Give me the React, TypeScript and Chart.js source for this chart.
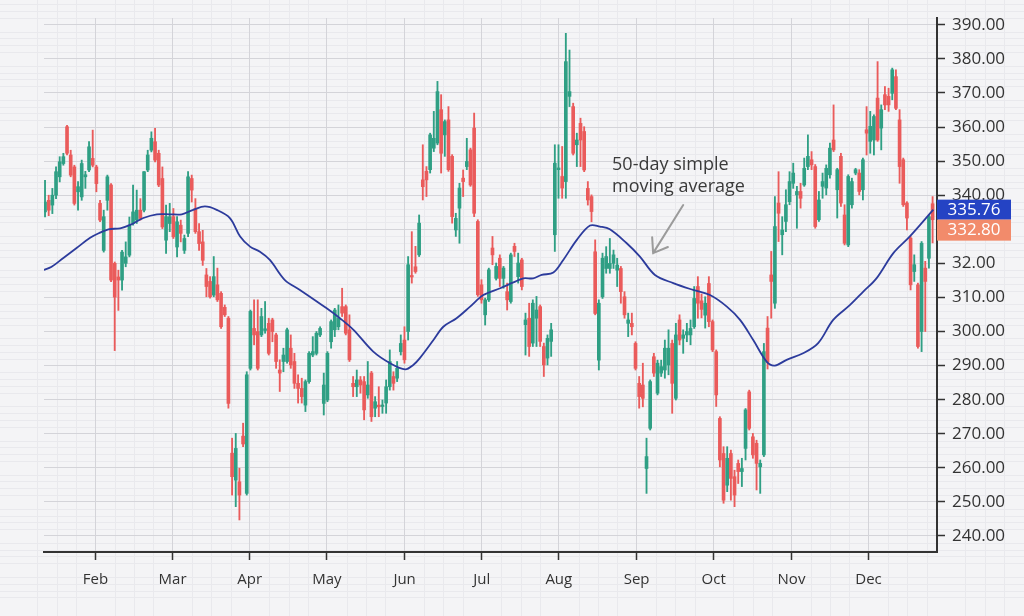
import React, { useEffect, useRef } from 'react';
import { Chart, registerables } from 'chart.js';

Chart.register(...registerables);

// ---- Candle data (trading-day index 0..242) ----
const openP = [
  335.1, 338.5, 337.1, 340.0, 345.4, 349.3, 360.1, 351.8, 348.3, 341.0,
  339.5, 345.4, 347.4, 350.8, 348.3, 337.6, 323.8, 338.5, 343.0, 320.0,
  316.0, 315.1, 320.0, 322.4, 331.7, 332.7, 335.6, 335.6, 347.4, 353.2,
  355.7, 352.3, 344.9, 326.8, 331.7, 333.7, 324.8, 331.2, 323.8, 328.8,
  344.9, 336.1, 329.3, 326.3, 316.6,
  314.7, 310.7, 313.7, 311.2, 307.1, 303.9, 264.3, 256.4, 255.9, 269.3,
  252.5, 289.2, 300.9, 300.0, 299.0, 300.3, 302.4, 303.4, 299.0, 288.7,
  291.2, 291.2, 295.1, 291.2, 284.8, 283.3, 278.4, 285.3, 293.1, 293.6,
  299.0, 278.9, 279.9, 297.0, 300.5, 301.4, 307.3, 307.3, 300.5, 284.8,
  283.8, 285.8, 285.3, 281.4, 287.8, 277.5, 278.4, 278.0, 279.0, 283.8,
  286.8, 286.3, 294.1, 297.5,
  300.0, 316.3, 319.0, 322.5, 344.5, 347.0, 347.5, 353.8, 355.3, 365.1,
  357.7, 362.1, 351.4, 329.8, 336.2, 345.0, 348.4, 353.3, 359.7, 332.3,
  313.7, 304.9, 309.3, 324.5, 315.6, 321.5, 315.6, 311.7, 308.8, 325.0,
  316.1, 321.0, 302.0, 303.9, 296.6, 303.9, 307.3, 295.6, 292.2, 297.1,
  328.4, 347.5, 345.5,
  344.0, 369.0, 366.0, 354.8, 361.1, 358.7, 342.0, 339.6, 323.4, 291.6,
  310.2, 318.5, 318.5, 320.0, 318.0, 318.5, 310.2, 302.4, 302.4, 296.5,
  284.8, 284.3, 259.8, 271.6, 292.6, 281.9, 287.8, 288.7, 290.2, 296.5,
  280.4, 303.4, 298.0, 299.0, 299.0, 301.4, 313.2, 309.0,
  304.8, 314.1, 302.9, 294.1, 274.5, 264.2, 254.9, 264.2, 257.4, 261.3,
  258.9, 265.7, 282.3, 269.1, 267.2, 260.3, 263.8, 301.0,
  316.6, 308.3, 337.7, 328.4, 332.3, 338.1, 343.5, 340.1, 341.1, 343.0,
  348.4, 350.4, 348.4, 332.8, 342.6, 342.1, 346.0, 356.2, 341.6, 351.4,
  334.2, 325.4, 337.2, 346.5, 346.5, 341.6, 359.2, 355.8, 356.2, 368.5,
  359.7, 369.5, 369.0, 369.9, 374.8, 362.1, 350.4, 337.7, 327.4, 317.6,
  313.7, 300.0, 318.6, 321.5, 337.5,
];

const highP = [
  344.4, 340.0, 342.0, 348.3, 351.3, 352.3, 360.5, 353.2, 348.8, 344.0,
  350.3, 347.0, 355.7, 359.1, 348.8, 338.5, 335.6, 345.9, 343.4, 320.4,
  318.0, 323.8, 326.3, 333.6, 343.0, 341.5, 339.0, 346.9, 353.2, 358.6,
  359.6, 353.2, 348.3, 337.1, 337.6, 336.1, 333.7, 332.7, 328.3, 346.9,
  345.9, 339.0, 331.7, 329.7, 318.5,
  316.1, 322.0, 318.6, 311.7, 307.8, 304.4, 268.7, 270.1, 259.9, 273.1,
  288.2, 306.3, 309.3, 309.3, 306.8, 308.8, 303.9, 303.9, 299.5, 291.7,
  295.1, 301.0, 299.0, 293.6, 287.3, 286.3, 285.8, 294.1, 298.5, 300.0,
  301.4, 287.8, 294.1, 303.4, 306.8, 307.8, 312.7, 307.8, 304.9, 286.8,
  288.7, 286.8, 286.8, 291.2, 288.3, 280.9, 283.8, 279.9, 285.8, 294.6,
  288.2, 291.2, 299.0, 301.4,
  322.0, 329.3, 325.0, 334.2, 354.8, 348.4, 358.2, 364.6, 373.4, 369.5,
  362.1, 366.0, 351.9, 334.7, 343.5, 347.4, 356.7, 353.8, 364.1, 332.8,
  315.2, 309.8, 318.6, 327.9, 320.1, 322.5, 319.1, 314.2, 323.0, 325.9,
  323.0, 321.5, 305.4, 308.3, 309.3, 310.3, 307.8, 296.6, 299.0, 302.4,
  354.8, 354.8, 354.3,
  387.5, 382.6, 367.0, 358.2, 362.6, 360.1, 344.0, 340.1, 326.9, 309.3,
  323.0, 324.9, 327.3, 323.9, 321.5, 319.1, 311.7, 305.4, 305.4, 297.0,
  286.8, 290.7, 268.7, 285.8, 293.6, 291.6, 291.6, 297.5, 300.5, 297.5,
  302.4, 304.9, 300.5, 302.4, 303.4, 313.2, 316.1, 311.0,
  310.2, 316.1, 303.4, 294.6, 275.0, 266.2, 266.2, 265.2, 259.3, 262.3,
  262.8, 277.4, 282.8, 270.1, 268.1, 262.3, 296.5, 304.4,
  323.5, 339.6, 346.9, 333.7, 341.6, 346.9, 349.4, 342.6, 343.5, 350.9,
  357.7, 352.8, 349.0, 341.1, 346.5, 348.9, 355.3, 366.5, 347.9, 352.3,
  337.2, 346.0, 345.0, 347.9, 347.5, 350.9, 366.0, 364.6, 363.6, 379.2,
  366.5, 371.9, 371.4, 377.3, 376.8, 365.1, 350.9, 338.1, 327.9, 322.5,
  314.2, 326.4, 320.6, 334.2, 339.6,
];

const lowP = [
  333.6, 334.0, 334.6, 339.0, 343.9, 348.8, 351.8, 345.4, 337.1, 335.6,
  338.5, 342.0, 346.9, 348.3, 341.0, 332.2, 323.3, 335.6, 314.6, 294.4,
  306.2, 312.1, 319.0, 321.9, 331.2, 331.7, 332.7, 335.1, 346.9, 352.7,
  349.8, 342.5, 330.2, 322.9, 329.3, 327.3, 321.9, 326.3, 322.9, 327.8,
  338.0, 328.8, 323.8, 319.4, 310.2,
  309.8, 310.2, 308.8, 300.9, 304.4, 277.5, 252.0, 248.6, 244.7, 266.2,
  252.0, 288.7, 296.1, 288.7, 298.5, 299.5, 293.1, 297.0, 289.2, 282.4,
  288.2, 290.7, 289.2, 283.3, 279.0, 279.0, 276.5, 284.8, 292.6, 293.1,
  298.5, 275.5, 279.4, 295.1, 298.5, 300.5, 304.4, 299.0, 291.2, 280.9,
  280.9, 281.9, 274.1, 280.4, 273.6, 275.0, 275.0, 276.0, 276.0, 282.8,
  282.8, 285.3, 293.1, 290.7,
  297.5, 314.2, 317.1, 322.0, 338.6, 339.6, 346.5, 352.8, 354.8, 346.5,
  351.4, 347.0, 331.8, 327.9, 325.9, 339.6, 347.5, 342.6, 333.7, 310.3,
  308.3, 301.9, 308.8, 319.6, 315.1, 313.2, 312.7, 306.3, 308.3, 322.0,
  314.2, 312.2, 293.1, 292.7, 295.6, 295.6, 295.6, 286.8, 290.2, 292.7,
  323.5, 339.1, 339.1,
  339.1, 366.0, 351.8, 348.4, 348.4, 346.9, 337.1, 332.2, 304.9, 288.7,
  309.7, 317.1, 317.1, 318.5, 313.2, 308.3, 303.9, 298.5, 299.0, 288.7,
  277.5, 277.9, 252.5, 271.1, 286.8, 281.4, 286.8, 286.3, 287.3, 276.0,
  279.9, 296.1, 293.6, 297.0, 296.1, 300.9, 303.9, 304.0,
  301.0, 301.4, 294.1, 278.0, 260.3, 249.6, 253.0, 250.5, 248.6, 255.4,
  254.5, 262.3, 271.1, 262.8, 253.5, 252.5, 263.3, 289.0,
  303.9, 306.8, 326.4, 322.5, 329.3, 337.2, 342.0, 330.3, 336.2, 342.6,
  347.5, 347.5, 330.3, 332.3, 339.1, 340.1, 345.0, 352.8, 333.3, 336.7,
  325.4, 324.9, 336.2, 346.0, 340.1, 338.6, 351.8, 352.3, 351.8, 355.8,
  353.3, 365.1, 364.6, 368.0, 365.1, 343.5, 336.7, 329.8, 312.2, 314.7,
  295.1, 294.1, 300.0, 318.6, 326.0,
];

const closeP = [
  338.0, 335.6, 340.0, 346.9, 349.8, 351.3, 352.3, 345.9, 337.6, 342.5,
  349.3, 346.0, 354.2, 348.8, 343.4, 332.7, 333.7, 345.4, 315.1, 310.1,
  315.1, 323.3, 321.9, 331.2, 335.1, 335.6, 333.2, 346.9, 351.8, 356.7,
  350.3, 343.0, 330.7, 333.7, 333.7, 327.8, 332.2, 328.8, 327.3, 345.4,
  341.5, 329.3, 325.8, 320.9, 313.2,
  310.2, 316.1, 309.3, 301.4, 304.9, 278.9, 257.4, 265.7, 252.0, 267.0,
  287.3, 305.9, 299.0, 289.2, 304.4, 300.8, 293.6, 300.0, 291.2, 287.8,
  293.1, 300.5, 290.2, 284.8, 283.3, 280.9, 285.3, 293.6, 294.1, 299.5,
  300.9, 284.3, 293.6, 302.9, 306.3, 303.9, 305.4, 299.5, 291.7, 283.8,
  285.8, 284.3, 277.0, 284.3, 275.0, 279.4, 277.9, 278.4, 283.8, 291.2,
  284.8, 289.2, 296.5, 291.7,
  319.6, 316.0, 317.6, 331.8, 342.5, 344.5, 357.7, 356.7, 370.4, 352.3,
  361.6, 347.5, 333.7, 333.2, 342.1, 344.0, 349.9, 343.0, 334.7, 310.8,
  309.3, 309.3, 318.1, 322.5, 319.1, 315.6, 318.6, 309.3, 322.5, 323.5,
  320.1, 313.2, 303.4, 295.6, 308.3, 306.3, 297.1, 290.2, 298.0, 300.5,
  349.4, 348.0, 342.1,
  379.2, 370.4, 352.3, 356.2, 356.2, 347.4, 338.6, 335.2, 305.3, 308.3,
  321.5, 322.0, 320.0, 322.5, 319.5, 311.7, 304.9, 303.4, 301.4, 289.2,
  280.9, 280.4, 263.3, 285.3, 287.8, 290.7, 289.7, 295.1, 295.1, 284.8,
  299.0, 297.5, 299.0, 300.0, 300.9, 309.7, 308.3, 306.5,
  308.3, 302.9, 294.6, 281.4, 262.3, 250.5, 262.8, 256.9, 252.0, 258.9,
  259.8, 277.0, 271.6, 263.8, 261.3, 261.3, 294.1, 291.0,
  314.7, 330.8, 334.7, 329.8, 337.2, 344.0, 346.5, 341.1, 339.1, 347.9,
  351.4, 348.9, 330.8, 338.6, 344.0, 347.9, 353.8, 353.3, 347.5, 337.7,
  325.9, 345.5, 344.0, 347.5, 341.1, 350.4, 358.2, 360.2, 363.1, 356.2,
  365.1, 366.5, 366.5, 376.8, 365.5, 348.4, 337.2, 333.3, 313.7, 319.6,
  295.6, 325.9, 314.7, 333.7, 332.8,
];

// ---- 50-day simple moving average ----
const maIndex = [
  -0.5, 1.8, 5.0, 8.6, 12.3, 15.0, 17.3, 20.5, 23.2, 26.8,
  30.5, 34.1, 37.3, 40.4, 43.6, 46.8, 50.4, 53.2, 55.9, 58.6,
  61.3, 65.4, 69.5, 76.8, 80.4, 84.1, 89.5, 94.1, 98.2, 100.4,
  102.2, 105.9, 108.6, 112.2, 115.9, 119.5, 124.1, 127.7, 130.4, 133.1,
  135.4, 138.6, 141.3, 145.0, 148.6, 151.3, 154.0, 158.6, 162.2, 166.3,
  171.3, 176.7, 181.3, 185.9, 189.5, 193.1, 196.8, 199.0, 202.2, 206.7,
  210.8, 214.9, 219.5, 223.1, 226.7, 231.3, 235.8, 242.2,
];
const maValue = [
  318.0, 319.0, 321.6, 324.5, 327.5, 329.0, 330.0, 330.3, 331.3, 333.3,
  334.4, 334.4, 334.4, 335.7, 336.7, 335.7, 333.3, 327.9, 324.9, 323.4,
  321.0, 315.1, 312.2, 306.8, 303.9, 300.5, 294.1, 290.7, 288.9, 290.2,
  292.2, 297.5, 301.4, 303.9, 307.3, 310.7, 312.7, 314.4, 315.6, 315.6,
  316.6, 317.3, 321.0, 326.9, 331.1, 330.8, 330.0, 325.9, 322.0, 316.6,
  314.2, 312.2, 310.7, 307.3, 303.4, 297.5, 291.1, 290.0, 291.7, 293.6,
  296.6, 303.4, 307.8, 311.7, 315.6, 323.0, 327.9, 335.76,
];

// ---- Axes ----
const monthLabels = ['Feb', 'Mar', 'Apr', 'May', 'Jun', 'Jul', 'Aug', 'Sep', 'Oct', 'Nov', 'Dec'];
const monthTickIndex = [13.74, 34.77, 55.81, 76.83, 98.04, 119.06, 140.08, 161.29, 182.31, 203.52, 224.54];
const yTickValues = [240, 250, 260, 270, 280, 290, 300, 310, 320, 330, 340, 350, 360, 370, 380, 390];
const yTickLabels = ['240.00', '250.00', '260.00', '270.00', '280.00', '290.00', '300.00', '310.00', '32.00', '330.00', '340.00', '350.00', '360.00', '370.00', '380.00', '390.00'];

const lastMA = 335.76;
const lastClose = 332.8;
const lastMALabel = '335.76';
const lastCloseLabel = '332.80';

const annotationLines = ['50-day simple', 'moving average'];
const annotationTextAt = { x: 154.6, y1: 348.9, y2: 342.5 };
const arrowFrom = { x: 174.0, y: 337.1 };
const arrowTo = { x: 165.8, y: 323.0 };

const GREEN = '#2f9f84';
const RED = '#ea5b5b';
const BG = '#f4f4f6';
const FONT = '"Open Sans", "Noto Sans", sans-serif';

const bgPlugin = {
  id: 'bgGrid',
  beforeDraw(chart: any) {
    const { ctx, width, height, scales } = chart;
    const xs = scales.x;
    const ys = scales.y;
    ctx.save();
    ctx.fillStyle = BG;
    ctx.fillRect(0, 0, width, height);
    ctx.strokeStyle = '#e9e9ed';
    ctx.lineWidth = 1;
    for (let v = 220; v <= 410; v += 2) {
      if (v % 10 === 0) continue;
      const y = Math.round(ys.getPixelForValue(v)) + 0.5;
      if (y < 0 || y > height) continue;
      ctx.beginPath();
      ctx.moveTo(0, y);
      ctx.lineTo(width, y);
      ctx.stroke();
    }
    const step = (monthTickIndex[monthTickIndex.length - 1] - monthTickIndex[0]) / (monthTickIndex.length - 1);
    for (let q = -8; q <= 48; q++) {
      if (q % 4 === 0) continue;
      const v = monthTickIndex[0] + (q / 4) * step;
      const x = Math.round(xs.getPixelForValue(v)) + 0.5;
      if (x < 0 || x > width) continue;
      ctx.beginPath();
      ctx.moveTo(x, 0);
      ctx.lineTo(x, height);
      ctx.stroke();
    }
    ctx.restore();
  },
};

const overlayPlugin = {
  id: 'overlay',
  afterDraw(chart: any) {
    const { ctx, scales, chartArea } = chart;
    const xs = scales.x;
    const ys = scales.y;
    ctx.save();
    ctx.fillStyle = '#3a3a3a';
    ctx.font = `18px ${FONT}`;
    ctx.textAlign = 'left';
    ctx.textBaseline = 'middle';
    const tx = xs.getPixelForValue(annotationTextAt.x);
    ctx.fillText(annotationLines[0], tx, ys.getPixelForValue(annotationTextAt.y1));
    ctx.fillText(annotationLines[1], tx, ys.getPixelForValue(annotationTextAt.y2));
    const x1 = xs.getPixelForValue(arrowFrom.x);
    const y1 = ys.getPixelForValue(arrowFrom.y);
    const x2 = xs.getPixelForValue(arrowTo.x);
    const y2 = ys.getPixelForValue(arrowTo.y);
    ctx.strokeStyle = '#9b9b9b';
    ctx.lineWidth = 2;
    ctx.lineCap = 'round';
    ctx.beginPath();
    ctx.moveTo(x1, y1);
    ctx.lineTo(x2, y2);
    const ang = Math.atan2(y1 - y2, x1 - x2);
    const hl = 16;
    ctx.moveTo(x2 + hl * Math.cos(ang - 0.62), y2 + hl * Math.sin(ang - 0.62));
    ctx.lineTo(x2, y2);
    ctx.lineTo(x2 + hl * Math.cos(ang + 0.62), y2 + hl * Math.sin(ang + 0.62));
    ctx.stroke();

    const left = chartArea.right;
    const w = 74;
    const h = 20;
    const yMA = ys.getPixelForValue(lastMA);
    const topMA = yMA - h / 2;
    const yC = ys.getPixelForValue(lastClose);
    const topC = Math.max(yC - h / 2, topMA + h);
    ctx.fillStyle = '#2443c4';
    ctx.fillRect(left, topMA, w, h);
    ctx.fillStyle = '#f28b6b';
    ctx.fillRect(left, topC, w, h + 1);
    ctx.fillStyle = '#ffffff';
    ctx.font = `17px ${FONT}`;
    ctx.textAlign = 'center';
    ctx.textBaseline = 'middle';
    ctx.fillText(lastMALabel, left + w / 2, topMA + h / 2 + 0.5);
    ctx.fillText(lastCloseLabel, left + w / 2, topC + h / 2 + 1);
    ctx.restore();
  },
};

export default function App() {
  const canvasRef = useRef<HTMLCanvasElement | null>(null);

  useEffect(() => {
    document.body.style.margin = '0';
    document.body.style.background = BG;
    const canvas = canvasRef.current;
    if (!canvas) return;

    const idx = openP.map((_, i) => i);
    const colors = idx.map((i) => (closeP[i] >= openP[i] ? GREEN : RED));
    const wickData = idx.map((i) => ({ x: i, y: [lowP[i], highP[i]] }));
    const bodyData = idx.map((i) => ({
      x: i,
      y: [Math.min(openP[i], closeP[i]), Math.max(openP[i], closeP[i])],
    }));
    const maData = maIndex.map((x, i) => ({ x, y: maValue[i] }));

    const chart = new Chart(canvas, {
      type: 'bar',
      data: {
        datasets: [
          {
            type: 'line',
            data: maData as any,
            borderColor: '#2c3b9c',
            borderWidth: 1.8,
            pointRadius: 0,
            tension: 0.35,
            fill: false,
            order: 0,
          } as any,
          {
            type: 'bar',
            data: bodyData as any,
            backgroundColor: colors,
            borderWidth: 0,
            barThickness: 3,
            minBarLength: 1.5,
            grouped: false,
            order: 1,
          } as any,
          {
            type: 'bar',
            data: wickData as any,
            backgroundColor: colors,
            borderWidth: 0,
            barThickness: 1.2,
            grouped: false,
            order: 2,
          } as any,
        ],
      },
      options: {
        responsive: false,
        animation: false,
        events: [],
        layout: { padding: { left: 44, top: 18, right: 0, bottom: 0 } },
        plugins: {
          legend: { display: false },
          tooltip: { enabled: false },
          title: { display: false },
        },
        scales: {
          x: {
            type: 'linear',
            min: -0.28,
            max: 243.2,
            offset: false,
            grid: {
              offset: false,
              color: '#d4d4d9',
              lineWidth: 1,
              tickColor: '#333333',
              tickLength: 8,
              tickWidth: 1.5,
            },
            border: { display: true, color: '#333333', width: 2 },
            afterBuildTicks: (scale: any) => {
              scale.ticks = monthTickIndex.map((v) => ({ value: v }));
            },
            afterFit: (scale: any) => {
              scale.height = 64;
            },
            ticks: {
              autoSkip: false,
              maxRotation: 0,
              padding: 11,
              color: '#333333',
              font: { family: FONT, size: 15 },
              callback: (_v: any, i: number) => monthLabels[i],
            },
          },
          y: {
            type: 'linear',
            position: 'right',
            min: 235.3,
            max: 392.0,
            grid: {
              color: '#d4d4d9',
              lineWidth: 1,
              tickColor: '#333333',
              tickLength: 8,
              tickWidth: 1.5,
            },
            border: { display: true, color: '#333333', width: 2 },
            afterBuildTicks: (scale: any) => {
              scale.ticks = yTickValues.map((v) => ({ value: v }));
            },
            afterFit: (scale: any) => {
              scale.width = 87;
            },
            ticks: {
              autoSkip: false,
              padding: 7,
              color: '#333333',
              font: { family: FONT, size: 17, weight: '500' },
              callback: (_v: any, i: number) => yTickLabels[i],
            },
          },
        },
      } as any,
      plugins: [bgPlugin, overlayPlugin],
    });

    return () => {
      chart.destroy();
    };
  }, []);

  return (
    <div style={{ width: 1024, height: 616, background: BG }}>
      <canvas ref={canvasRef} width={1024} height={616} style={{ display: 'block' }} />
    </div>
  );
}
